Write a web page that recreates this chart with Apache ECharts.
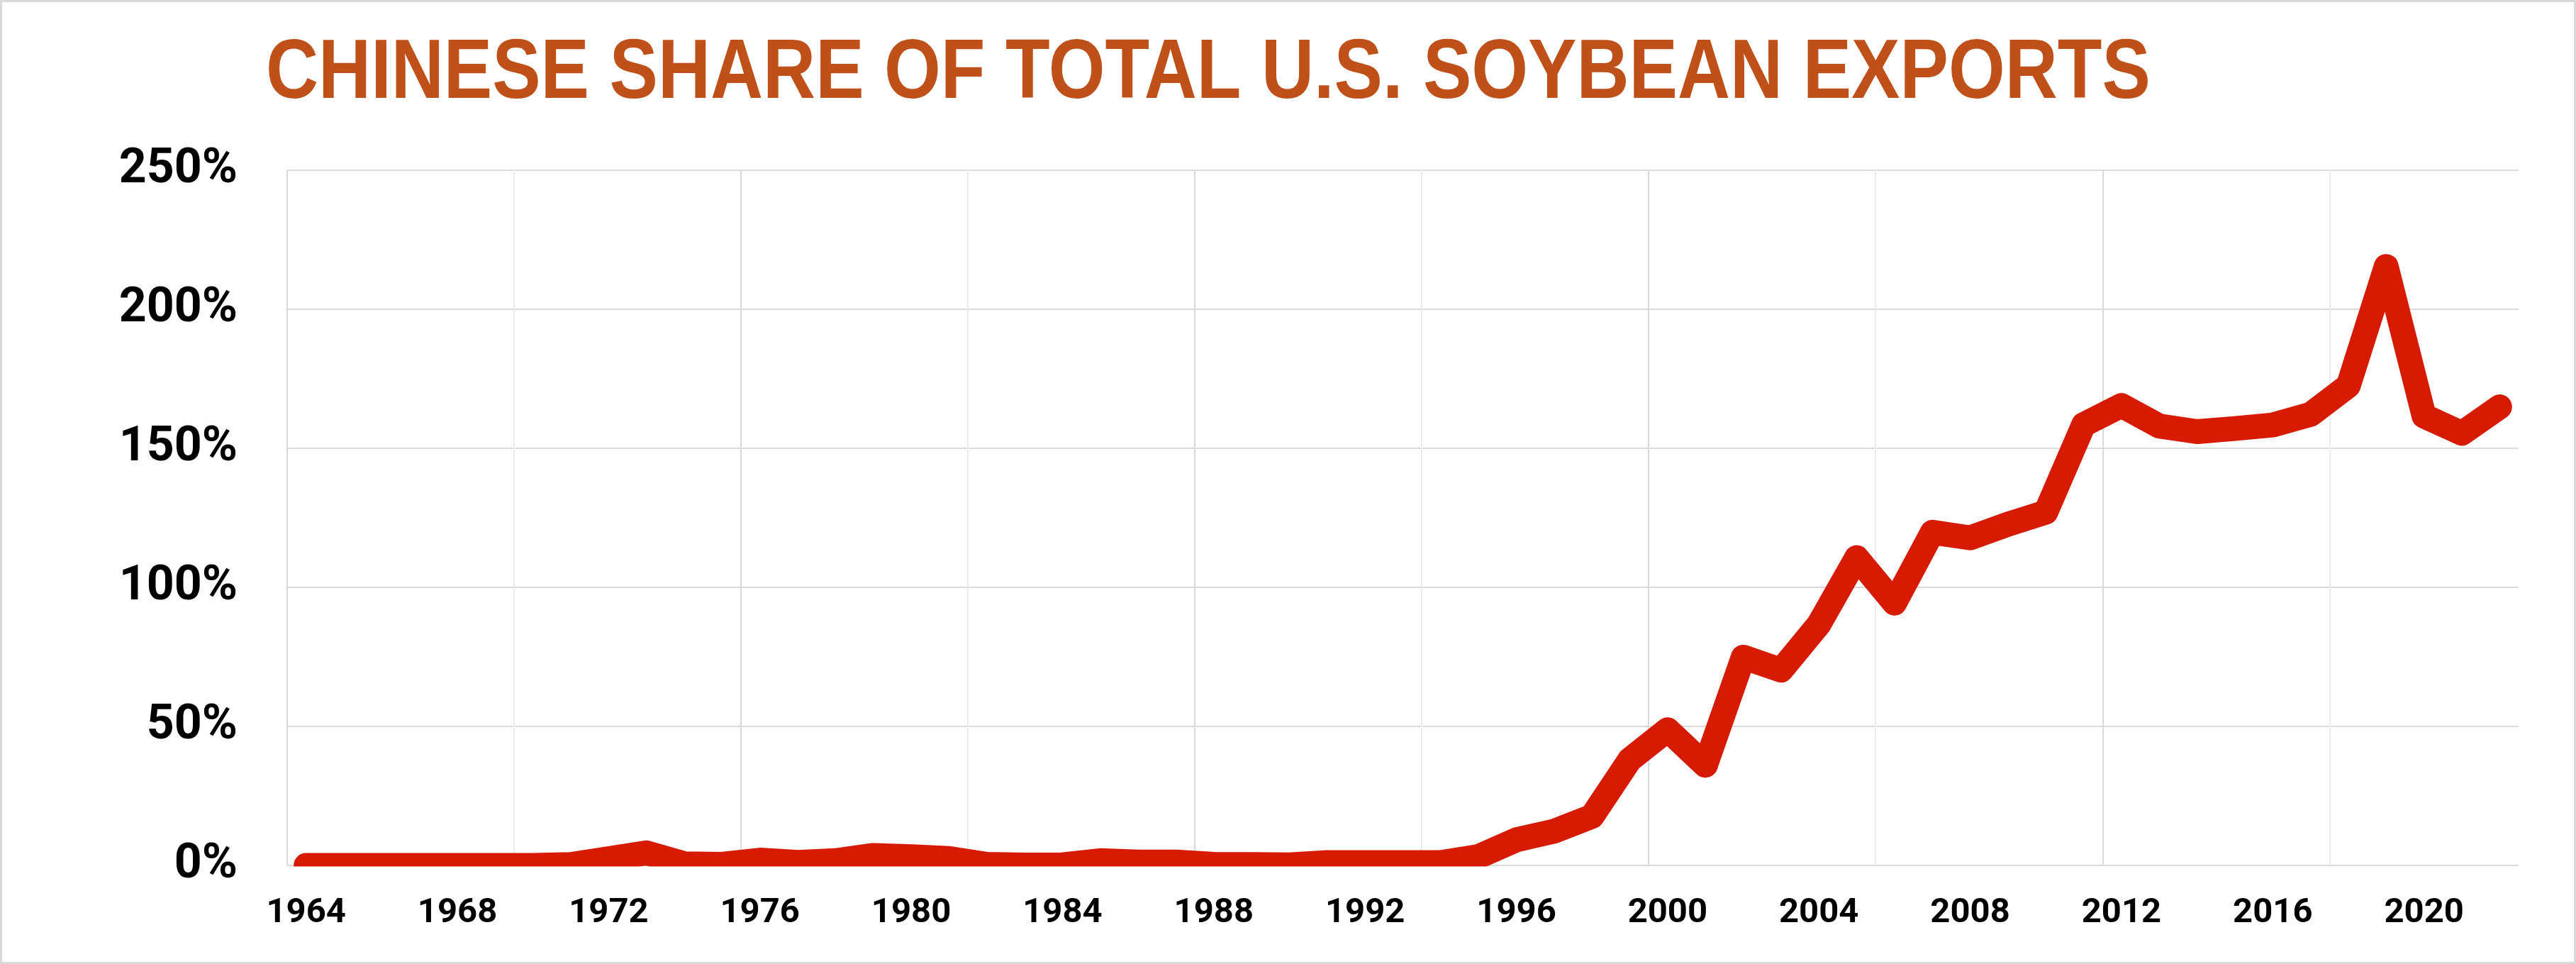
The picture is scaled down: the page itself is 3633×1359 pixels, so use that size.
<!DOCTYPE html>
<html>
<head>
<meta charset="utf-8">
<title>Chinese share of total U.S. soybean exports</title>
<script src="https://cdn.jsdelivr.net/npm/echarts@6/dist/echarts.min.js"></script>
<style>
  html, body { margin: 0; padding: 0; background: #ffffff; }
  #chart { width: 3633px; height: 1359px; }
  .frame {
    position: absolute; left: 0; top: 0;
    width: 3633px; height: 1359px;
    box-sizing: border-box;
    border: 3px solid #d9d9d9;
    pointer-events: none;
  }
</style>
</head>
<body>
<div id="chart"></div>
<div class="frame"></div>
<script>
// years on the x axis
const years = []
for (let y = 1964; y <= 2022; y++) years.push(String(y))

// share of exports (%)
const shareValues = [
  0, 0, 0, 0, 0, 0, 0, 0.3, 2.4, 4.5,      // 1964-1973
  0.6, 0.4, 1.9, 1.1, 1.7, 3.6, 3.1, 2.5, 0.4, 0.1,   // 1974-1983
  0.2, 1.7, 1.2, 1.2, 0.4, 0.3, 0.2, 1.0, 1.0, 1.0,   // 1984-1993
  1.0, 3.2, 9.2, 12.3, 17.6, 38.0, 48.8, 36.0, 74.9, 70.2,   // 1994-2003
  86.7, 110.7, 94.3, 119.8, 117.8, 122.7, 127.0, 158.5, 165.4, 158.0,   // 2004-2013
  156.0, 157.1, 158.4, 162.2, 172.5, 215.4, 161.6, 155.4, 164.9   // 2014-2022
]

const yTicks = [0, 50, 100, 150, 200, 250]

const titleText = 'CHINESE SHARE OF TOTAL U.S. SOYBEAN EXPORTS'
const GRID = { left: 405, right: 81, top: 240, bottom: 139 }

const chart = echarts.init(document.getElementById('chart'))

chart.setOption({
  animation: false,
  backgroundColor: '#ffffff',
  grid: {
    left: GRID.left,
    right: GRID.right,
    top: GRID.top,
    bottom: GRID.bottom,
    containLabel: false
  },
  xAxis: {
    type: 'category',
    data: years,
    boundaryGap: true,
    axisLine: { show: false },
    axisTick: { show: false },
    axisLabel: {
      interval: 3,
      margin: 43,
      fontFamily: 'Roboto',
      fontWeight: 'bold',
      fontSize: 49,
      color: '#000000'
    },
    splitLine: {
      show: true,
      interval: 5,
      showMaxLine: false,
      // every 12 years a darker line, the 6-year ones lighter
      lineStyle: { color: ['#d9d9d9', '#ececec'], width: 2 }
    }
  },
  yAxis: {
    type: 'value',
    min: yTicks[0],
    max: yTicks[yTicks.length - 1],
    interval: 50,
    axisLine: { show: false },
    axisTick: { show: false },
    axisLabel: {
      formatter: '{value}%',
      margin: 70,
      fontFamily: 'Roboto',
      fontWeight: 'bold',
      fontSize: 68,
      color: '#000000'
    },
    splitLine: {
      lineStyle: { color: '#d9d9d9', width: 2 }
    }
  },
  series: [
    {
      name: 'Chinese share',
      type: 'line',
      data: shareValues,
      showSymbol: false,
      symbol: 'none',
      smooth: false,
      lineStyle: {
        color: '#D71A02',
        width: 35,
        cap: 'round',
        join: 'round'
      },
      z: 3
    }
  ]
})

// the reference cuts the thick line off at the 0% line; hide the part below it
const zeroY = chart.convertToPixel({ yAxisIndex: 0 }, 0)
chart.setOption({
  graphic: [
    {
      type: 'rect',
      z: 100,
      shape: {
        x: GRID.left - 30,
        y: zeroY + 1.5,
        width: 3633 - GRID.left - GRID.right + 60,
        height: 22
      },
      style: { fill: '#ffffff' }
    },
    // title: no narrow bold font installed, so squeeze a bold sans instead
    {
      type: 'text',
      z: 100,
      x: 375,
      y: 46,
      scaleX: 0.862,
      style: {
        text: titleText,
        fontFamily: '"Liberation Sans", Arial, sans-serif',
        fontWeight: 'bold',
        fontSize: 119,
        fill: '#BF5019',
        verticalAlign: 'top'
      }
    }
  ]
})
</script>
</body>
</html>
